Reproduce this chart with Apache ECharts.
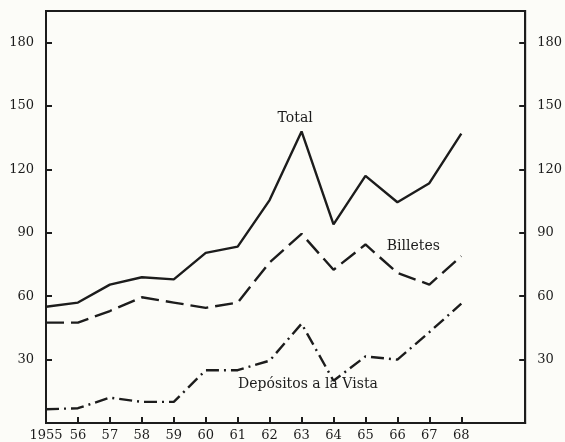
<!DOCTYPE html>
<html>
<head>
<meta charset="utf-8">
<script src="https://cdn.jsdelivr.net/npm/echarts@6/dist/echarts.min.js"></script>
<style>
  html, body { margin: 0; padding: 0; background: #fcfcf8; }
  #chart { width: 565px; height: 442px; }
</style>
</head>
<body>
<div id="chart"></div>
<script>
// años y series
let years = [1955, 1956, 1957, 1958, 1959, 1960, 1961, 1962, 1963, 1964, 1965, 1966, 1967, 1968];
let total = [55, 57, 65.5, 69, 68, 80.5, 83.5, 105.5, 138, 94, 117, 104.5, 113.5, 137];
let billetes = [47.5, 47.5, 53, 59.5, 57, 54.5, 57, 76, 89.5, 72.5, 84.5, 71, 65.5, 79];
let depositos = [6.5, 7, 12, 10, 10, 25, 25, 29.5, 47, 20, 31.5, 30, 43, 56.5];
let yTicks = [30, 60, 90, 120, 150, 180];

let ink = "#1c1c1c";
let font = "DejaVu Serif";

function pairs(vals) {
  return years.map(function (y, i) {
    return [y, vals[i]];
  });
}

function yAxisOf(pos) {
  return {
    type: "value",
    position: pos,
    min: 0,
    max: 195,
    splitLine: { show: false },
    axisLine: { show: true, lineStyle: { color: ink, width: 2 } },
    axisTick: {
      show: true,
      inside: true,
      length: 6,
      customValues: yTicks,
      lineStyle: { color: ink, width: 2 },
    },
    axisLabel: {
      show: true,
      customValues: yTicks,
      margin: 12,
      color: ink,
      fontFamily: font,
      fontSize: 13,
    },
  };
}

function label(text, coord) {
  return {
    coord: coord,
    symbol: "circle",
    symbolSize: 1,
    itemStyle: { color: "rgba(0,0,0,0)" },
    label: {
      show: true,
      formatter: text,
      position: "inside",
      color: ink,
      fontFamily: font,
      fontSize: 14,
    },
  };
}

function line(name, vals, type, note, coord) {
  return {
    name: name,
    type: "line",
    data: pairs(vals),
    symbol: "none",
    lineStyle: { color: ink, width: 2.4, type: type },
    markPoint: { data: [label(note, coord)], silent: true },
  };
}

let chart = echarts.init(document.getElementById("chart"));
chart.setOption({
  animation: false,
  backgroundColor: "#fcfcf8",
  grid: {
    left: 46,
    right: 39,
    top: 11,
    bottom: 18,
    show: true,
    borderColor: ink,
    borderWidth: 2,
  },
  xAxis: {
    type: "value",
    min: 1955,
    max: 1970,
    splitLine: { show: false },
    axisLine: { show: true, lineStyle: { color: ink, width: 2 } },
    axisTick: {
      show: true,
      inside: true,
      length: 6,
      customValues: years.slice(1),
      lineStyle: { color: ink, width: 2 },
    },
    axisLabel: {
      show: true,
      customValues: years,
      margin: 6,
      color: ink,
      fontFamily: font,
      fontSize: 13,
      formatter: function (v) {
        return v === 1955 ? "1955" : String(v).slice(2);
      },
    },
  },
  yAxis: [yAxisOf("left"), yAxisOf("right")],
  series: [
    line("Total", total, "solid", "Total", [1962.8, 144]),
    line("Billetes", billetes, [18, 7], "Billetes", [1966.5, 83.5]),
    line("Depósitos a la Vista", depositos, [13, 5, 2, 5], "Depósitos a la Vista", [1963.2, 18.5]),
  ],
});
</script>
</body>
</html>
